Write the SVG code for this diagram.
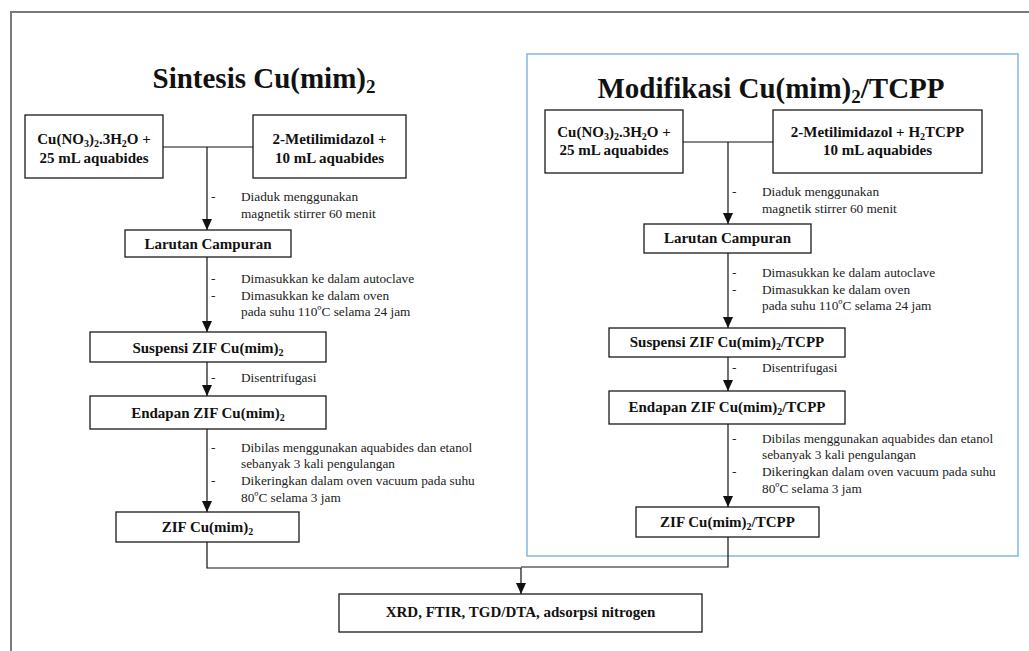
<svg xmlns="http://www.w3.org/2000/svg" width="1029" height="651" viewBox="0 0 1029 651">
<defs>
<style>
.box{fill:#fff;stroke:#1a1a1a;stroke-width:1.3}
.bt{font-family:"Liberation Serif","Times New Roman",serif;font-weight:bold;font-size:15px;fill:#111;text-anchor:middle}
.title{font-family:"Liberation Serif","Times New Roman",serif;font-weight:bold;font-size:29px;fill:#111;text-anchor:middle}
.note{font-family:"Liberation Serif","Times New Roman",serif;font-size:13.3px;fill:#222}
.ln{fill:none;stroke:#111;stroke-width:1.2}
</style>
<marker id="arr" markerUnits="userSpaceOnUse" markerWidth="12" markerHeight="10" refX="11" refY="5" orient="auto" viewBox="0 0 12 10">
<path d="M0,0 L11,5 L0,10 Z" fill="#111"/>
</marker>
</defs>
<rect width="1029" height="651" fill="#fff"/>
<path d="M11,651 V12 H1029" fill="none" stroke="#7a7a7a" stroke-width="2"/>
<rect x="527" y="54" width="491" height="502" fill="none" stroke="#86b6e6" stroke-width="1.5"/>

<text class="title" x="264" y="88">Sintesis Cu(mim)<tspan font-size="19" dy="5">2</tspan></text>
<text class="title" x="771" y="98">Modifikasi Cu(mim)<tspan font-size="19" dy="5">2</tspan><tspan dy="-5">/TCPP</tspan></text>

<g id="connectors">
<path class="ln" d="M163,147 H253"/>
<path class="ln" d="M207,147 V230" marker-end="url(#arr)"/>
<path class="ln" d="M207,257 V332" marker-end="url(#arr)"/>
<path class="ln" d="M207,362 V396" marker-end="url(#arr)"/>
<path class="ln" d="M207,429 V512" marker-end="url(#arr)"/>
<path class="ln" d="M207,542 V568 H521 V594" marker-end="url(#arr)"/>
<path class="ln" d="M683,142 H773"/>
<path class="ln" d="M728,142 V224" marker-end="url(#arr)"/>
<path class="ln" d="M728,253 V328" marker-end="url(#arr)"/>
<path class="ln" d="M728,357 V391" marker-end="url(#arr)"/>
<path class="ln" d="M728,424 V507" marker-end="url(#arr)"/>
<path class="ln" d="M728,537 V567 H521"/>
</g>

<g id="notes">
<text class="note" x="211" y="201">-</text>
<text class="note" x="241" y="201">Diaduk menggunakan</text>
<text class="note" x="241" y="218">magnetik stirrer 60 menit</text>
<text class="note" x="211" y="283">-</text>
<text class="note" x="211" y="300">-</text>
<text class="note" x="241" y="283">Dimasukkan ke dalam autoclave</text>
<text class="note" x="241" y="300">Dimasukkan ke dalam oven</text>
<text class="note" x="241" y="316">pada suhu 110ºC selama 24 jam</text>
<text class="note" x="211" y="382">-</text>
<text class="note" x="241" y="382">Disentrifugasi</text>
<text class="note" x="211" y="452">-</text>
<text class="note" x="211" y="485">-</text>
<text class="note" x="241" y="452">Dibilas menggunakan aquabides dan etanol</text>
<text class="note" x="241" y="468">sebanyak 3 kali pengulangan</text>
<text class="note" x="241" y="485">Dikeringkan dalam oven vacuum pada suhu</text>
<text class="note" x="241" y="502">80ºC selama 3 jam</text>

<text class="note" x="732" y="196">-</text>
<text class="note" x="762" y="196">Diaduk menggunakan</text>
<text class="note" x="762" y="213">magnetik stirrer 60 menit</text>
<text class="note" x="732" y="277">-</text>
<text class="note" x="732" y="294">-</text>
<text class="note" x="762" y="277">Dimasukkan ke dalam autoclave</text>
<text class="note" x="762" y="294">Dimasukkan ke dalam oven</text>
<text class="note" x="762" y="310">pada suhu 110ºC selama 24 jam</text>
<text class="note" x="732" y="372">-</text>
<text class="note" x="762" y="372">Disentrifugasi</text>
<text class="note" x="732" y="443">-</text>
<text class="note" x="732" y="476">-</text>
<text class="note" x="762" y="443">Dibilas menggunakan aquabides dan etanol</text>
<text class="note" x="762" y="459">sebanyak 3 kali pengulangan</text>
<text class="note" x="762" y="476">Dikeringkan dalam oven vacuum pada suhu</text>
<text class="note" x="762" y="493">80ºC selama 3 jam</text>
</g>

<g id="L1"><rect class="box" x="25" y="115" width="138" height="63"/>
<text class="bt" x="94" y="144">Cu(NO<tspan font-size="10" dy="3">3</tspan><tspan dy="-3">)</tspan><tspan font-size="10" dy="3">2</tspan><tspan dy="-3">.3H</tspan><tspan font-size="10" dy="3">2</tspan><tspan dy="-3">O +</tspan></text>
<text class="bt" x="94" y="163">25 mL aquabides</text></g>
<g id="L2"><rect class="box" x="253" y="115" width="153" height="63"/>
<text class="bt" x="329.5" y="144">2-Metilimidazol +</text>
<text class="bt" x="329.5" y="163">10 mL aquabides</text></g>
<g id="L3"><rect class="box" x="125" y="230" width="166" height="27"/>
<text class="bt" x="208" y="249">Larutan Campuran</text></g>
<g id="L4"><rect class="box" x="90" y="332" width="236" height="30"/>
<text class="bt" x="208" y="353">Suspensi ZIF Cu(mim)<tspan font-size="10" dy="3">2</tspan></text></g>
<g id="L5"><rect class="box" x="90" y="396" width="236" height="33"/>
<text class="bt" x="208" y="418">Endapan ZIF Cu(mim)<tspan font-size="10" dy="3">2</tspan></text></g>
<g id="L6"><rect class="box" x="116" y="512" width="183" height="30"/>
<text class="bt" x="207.5" y="532">ZIF Cu(mim)<tspan font-size="10" dy="3">2</tspan></text></g>

<g id="R1"><rect class="box" x="545" y="110" width="138" height="63"/>
<text class="bt" x="614" y="137">Cu(NO<tspan font-size="10" dy="3">3</tspan><tspan dy="-3">)</tspan><tspan font-size="10" dy="3">2</tspan><tspan dy="-3">.3H</tspan><tspan font-size="10" dy="3">2</tspan><tspan dy="-3">O +</tspan></text>
<text class="bt" x="614" y="155">25 mL aquabides</text></g>
<g id="R2"><rect class="box" x="773" y="110" width="209" height="63"/>
<text class="bt" x="877.5" y="137">2-Metilimidazol + H<tspan font-size="10" dy="3">2</tspan><tspan dy="-3">TCPP</tspan></text>
<text class="bt" x="877.5" y="155">10 mL aquabides</text></g>
<g id="R3"><rect class="box" x="644" y="224" width="167" height="29"/>
<text class="bt" x="727.5" y="243">Larutan Campuran</text></g>
<g id="R4"><rect class="box" x="609" y="328" width="236" height="29"/>
<text class="bt" x="727" y="347">Suspensi ZIF Cu(mim)<tspan font-size="10" dy="3">2</tspan><tspan dy="-3">/TCPP</tspan></text></g>
<g id="R5"><rect class="box" x="609" y="391" width="236" height="33"/>
<text class="bt" x="727" y="412">Endapan ZIF Cu(mim)<tspan font-size="10" dy="3">2</tspan><tspan dy="-3">/TCPP</tspan></text></g>
<g id="R6"><rect class="box" x="636" y="507" width="183" height="30"/>
<text class="bt" x="727.5" y="527">ZIF Cu(mim)<tspan font-size="10" dy="3">2</tspan><tspan dy="-3">/TCPP</tspan></text></g>

<g id="XRD"><rect class="box" x="339" y="594" width="363" height="38"/>
<text class="bt" x="520.5" y="617">XRD, FTIR, TGD/DTA, adsorpsi nitrogen</text></g>
</svg>
